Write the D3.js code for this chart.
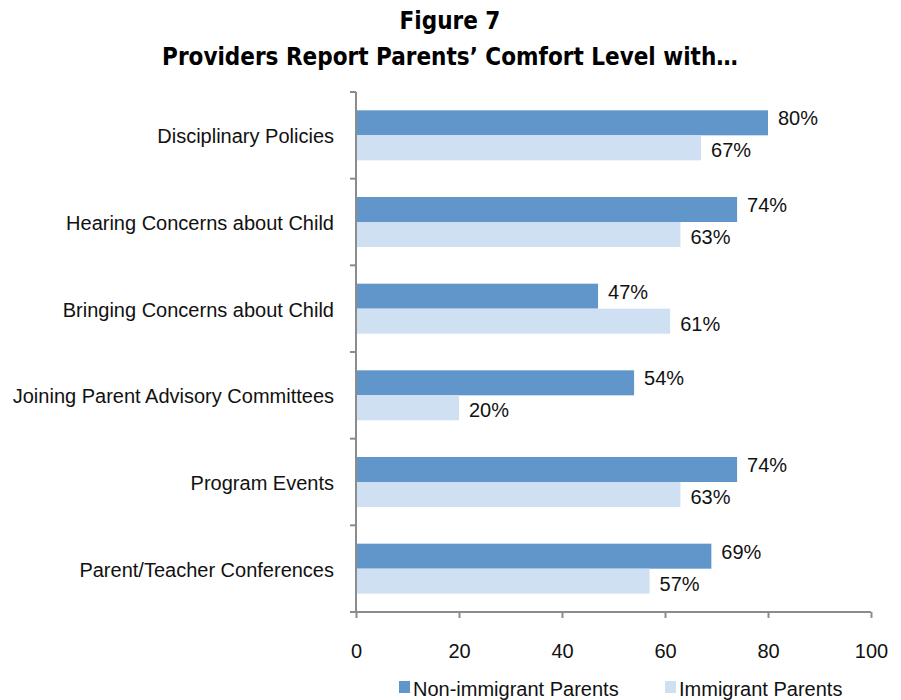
<!DOCTYPE html>
<html>
<head>
    <title>Figure 7</title>
    <script src="https://d3js.org/d3.v7.min.js"></script>
    <style>
        body { margin: 0; background: #fff; }
        .title { font-family: 'Liberation Sans Narrow', 'DejaVu Sans Condensed', sans-serif; font-weight: bold; font-size: 24px; fill: #000; }
        .lbl { font-family: 'Liberation Sans', Arial, sans-serif; font-size: 20px; fill: #111; }
        .axis path, .axis line { stroke: #8c8c8c; stroke-width: 2; }
    </style>
</head>
<body>
<svg id="chart" width="901" height="700"></svg>
<script>
    // data
    const categories = [
        "Disciplinary Policies",
        "Hearing Concerns about Child",
        "Bringing Concerns about Child",
        "Joining Parent Advisory Committees",
        "Program Events",
        "Parent/Teacher Conferences"
    ];
    const seriesNames = ["Non-immigrant Parents", "Immigrant Parents"];
    const nonImmigrant = [80, 74, 47, 54, 74, 69];
    const immigrant = [67, 63, 61, 20, 63, 57];
    const xTicks = [0, 20, 40, 60, 80, 100];
    const colors = ["#6096c9", "#cfe0f2"];

    const svg = d3.select("#chart");
    const plotLeft = 356, plotRight = 871, plotTop = 92, plotBottom = 612;

    const x = d3.scaleLinear().domain([0, 100]).range([plotLeft, plotRight]);
    const y = d3.scaleBand().domain(categories).range([plotTop, plotBottom]);

    // title
    svg.append("text").attr("class", "title").attr("x", 450).attr("y", 29)
        .attr("text-anchor", "middle").text("Figure 7");
    svg.append("text").attr("class", "title").attr("x", 450).attr("y", 65)
        .attr("text-anchor", "middle").text("Providers Report Parents\u2019 Comfort Level with\u2026");

    const barH = 25;
    const rows = categories.map((c, i) => ({c: c, vals: [nonImmigrant[i], immigrant[i]]}));

    const g = svg.selectAll(".grp").data(rows).enter().append("g")
        .attr("transform", d => "translate(0," + (y(d.c) + y.bandwidth() / 2 - barH) + ")");

    g.selectAll("rect").data(d => d.vals).enter().append("rect")
        .attr("x", x(0))
        .attr("y", (d, j) => j * barH)
        .attr("width", d => x(d) - x(0))
        .attr("height", barH)
        .attr("fill", (d, j) => colors[j]);

    // value labels (Excel places them slightly off-centre)
    g.selectAll(".val").data(d => d.vals).enter().append("text")
        .attr("class", "lbl")
        .attr("x", d => x(d) + 10)
        .attr("y", (d, j) => j === 0 ? 15 : barH + 22)
        .text(d => d + "%");

    // category labels
    svg.selectAll(".cat").data(categories).enter().append("text")
        .attr("class", "lbl")
        .attr("x", plotLeft - 22)
        .attr("y", d => y(d) + y.bandwidth() / 2 + 8)
        .attr("text-anchor", "end")
        .text(d => d);

    // y axis with ticks between categories
    const yAx = svg.append("g").attr("class", "axis");
    yAx.append("line").attr("x1", plotLeft).attr("x2", plotLeft).attr("y1", plotTop).attr("y2", plotBottom);
    yAx.selectAll(".yt").data(d3.range(categories.length + 1)).enter().append("line")
        .attr("x1", plotLeft - 6).attr("x2", plotLeft)
        .attr("y1", i => plotTop + i * y.step()).attr("y2", i => plotTop + i * y.step());

    // x axis
    const xAxis = svg.append("g").attr("class", "axis")
        .attr("transform", "translate(0," + plotBottom + ")")
        .call(d3.axisBottom(x).tickValues(xTicks).tickSize(6).tickSizeOuter(0).tickPadding(26));
    xAxis.selectAll("text").attr("class", "lbl").style("font-size", "20px");
    xAxis.select(".domain").attr("d", "M" + (plotLeft - 6) + ",0H" + plotRight);

    // legend
    const legend = [{x: 399, t: seriesNames[0], c: colors[0]}, {x: 665, t: seriesNames[1], c: colors[1]}];
    const lg = svg.selectAll(".leg").data(legend).enter().append("g");
    lg.append("rect").attr("x", d => d.x).attr("y", 681).attr("width", 11).attr("height", 12).attr("fill", d => d.c);
    lg.append("text").attr("class", "lbl").attr("x", d => d.x + 14).attr("y", 696).text(d => d.t);
</script>
</body>
</html>
